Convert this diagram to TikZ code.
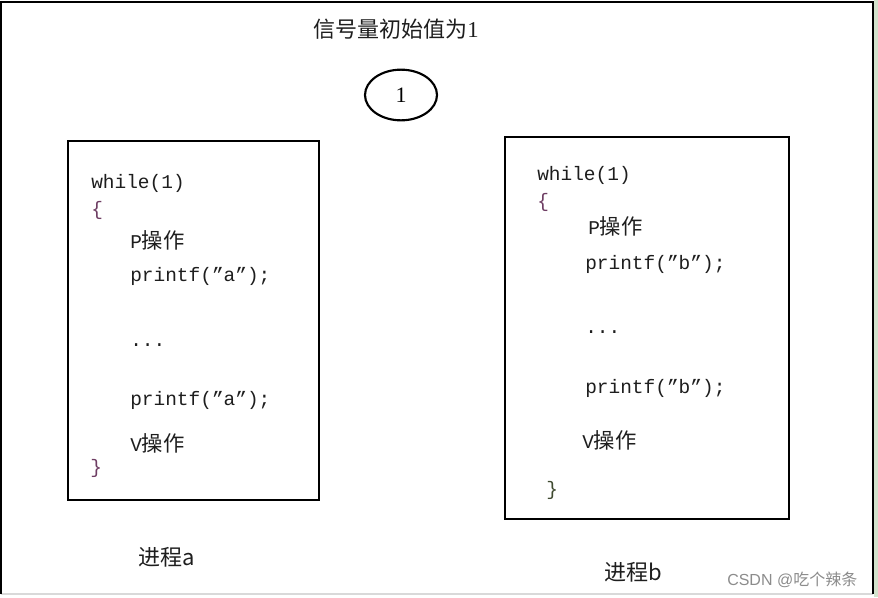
\documentclass[tikz,border=0pt]{standalone}
\usepackage{fontspec}
\usetikzlibrary{shapes.geometric}
\setmainfont{Liberation Serif}
\newfontfamily\cjk{Noto Sans CJK SC}
\newfontfamily\mono{Liberation Mono}
\newfontfamily\wmk{Liberation Sans}
\definecolor{ink}{HTML}{1E1E1E}
\definecolor{bracea}{HTML}{6E3D63}
\definecolor{braceb}{HTML}{3F4A30}
\definecolor{edge}{HTML}{D3E2CC}
\tikzset{
  code/.style={anchor=base west, inner sep=0pt, text=ink, font=\mono\fontsize{14.6}{16}\selectfont},
  han/.style={anchor=base west, inner sep=0pt, text=ink, font=\cjk\fontsize{16.5}{18}\selectfont},
  procbox/.style={draw=black, line width=2.2pt}
}
\newcommand{\op}[1]{{\mono\fontsize{14.6}{16}\selectfont #1}{\cjk\fontsize{16}{18}\selectfont 操作}}
\begin{document}
\begin{tikzpicture}[x=0.75pt, y=-0.75pt]
    \useasboundingbox (0,0) rectangle (878,597);
    \fill [white] (0,0) rectangle (878,597);
    \fill [edge] (874,0) rectangle (878,597);
    \draw [black!15, line width=0.8pt] (1,594) -- (873,594);
    \draw [black, line width=1.4pt] (1,594) -- (1,2) -- (873,2) -- (873,594);
    % semaphore
    \node [han] (title) at (313,37) {信号量初始值为\textrm{\fontsize{17}{18}\selectfont 1}};
    \node [draw=black, line width=1.6pt, ellipse, minimum width=54pt, minimum height=38pt, inner sep=0pt,
           font=\fontsize{16.5}{18}\selectfont] (sem) at (401,95) {1};
    % process a
    \draw [procbox] (68,141) rectangle (319,500);
    \node [code] (wa) at (91,188) {while(1)};
    \node [code, text=bracea] (la) at (91,215) {\{};
    \node [code] (pa) at (130,248) {\op{P}};
    \node [code] (fa1) at (130,281) {printf(”a”);};
    \node [code] (da) at (130,346) {...};
    \node [code] (fa2) at (130,405) {printf(”a”);};
    \node [code] (va) at (130,451) {\op{V}};
    \node [code, text=bracea] (ra) at (90,473) {\}};
    \node [han] (na) at (138,565) {进程a};
    % process b
    \draw [procbox] (505,137) rectangle (789,519);
    \node [code] (wb) at (537,180) {while(1)};
    \node [code, text=bracea] (lb) at (537,207) {\{};
    \node [code] (pb) at (588,234) {\op{P}};
    \node [code] (fb1) at (585,269) {printf(”b”);};
    \node [code] (db) at (585,333) {...};
    \node [code] (fb2) at (585,393) {printf(”b”);};
    \node [code] (vb) at (582,448) {\op{V}};
    \node [code, text=braceb] (rb) at (546,495) {\}};
    \node [han] (nb) at (604,580) {进程b};
    % watermark
    \node [anchor=base west, inner sep=0pt, text=black!45, font=\wmk\fontsize{12}{14}\selectfont] (mark) at (727,585)
          {CSDN @{\cjk 吃个辣条}};
\end{tikzpicture}
\end{document}
